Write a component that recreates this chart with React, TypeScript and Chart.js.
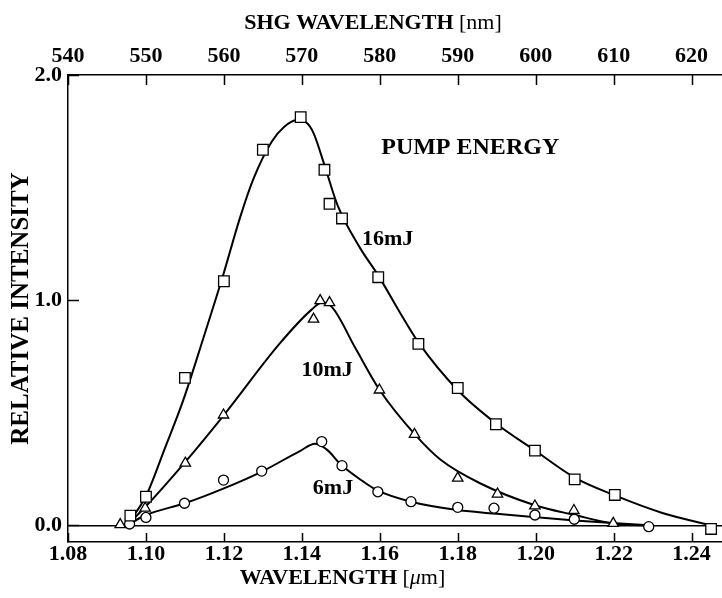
import React, { useEffect, useRef } from 'react';
import { Chart, registerables } from 'chart.js';

Chart.register(...registerables);

// ---- axis ranges and ticks ----
const X_MIN = 1.08;
const X_MAX = 1.2478;
const Y_MIN = -0.074;
const Y_MAX = 2.0;
const xTickValues = [1.08, 1.10, 1.12, 1.14, 1.16, 1.18, 1.20, 1.22, 1.24];
const shgTickValues = [540, 550, 560, 570, 580, 590, 600, 610, 620];
const yTickValues = [0, 1, 2];

// ---- measured points (wavelength in µm, relative intensity) ----
const points16mJ: [number, number][] = [
  [1.096, 0.043], [1.100, 0.127], [1.110, 0.655], [1.120, 1.084], [1.130, 1.668],
  [1.1397, 1.813], [1.1458, 1.579], [1.1471, 1.428], [1.1503, 1.363], [1.1596, 1.102],
  [1.1699, 0.806], [1.180, 0.610], [1.1898, 0.449], [1.1998, 0.332], [1.210, 0.204],
  [1.2203, 0.135], [1.245, -0.016],
];
const points10mJ: [number, number][] = [
  [1.0934, 0.003], [1.0998, 0.076], [1.1101, 0.276], [1.1199, 0.490], [1.143, 0.916],
  [1.1447, 0.998], [1.1471, 0.989], [1.1599, 0.601], [1.1689, 0.404], [1.180, 0.210],
  [1.1902, 0.139], [1.1998, 0.086], [1.2098, 0.066], [1.2199, 0.009],
];
const points6mJ: [number, number][] = [
  [1.0958, 0.006], [1.100, 0.035], [1.1099, 0.098], [1.1199, 0.201], [1.1297, 0.241],
  [1.1451, 0.372], [1.1503, 0.265], [1.1595, 0.149], [1.168, 0.105], [1.180, 0.080],
  [1.1893, 0.076], [1.1998, 0.046], [1.2099, 0.027], [1.229, -0.006],
];

// ---- hand-drawn fit curves ----
const curve16mJ: [number, number][] = [
  [1.0951, 0.0], [1.100, 0.13], [1.1048, 0.34], [1.1096, 0.557], [1.1147, 0.83],
  [1.1197, 1.105], [1.1242, 1.37], [1.1276, 1.54], [1.1323, 1.705], [1.1355, 1.77],
  [1.1387, 1.80], [1.1413, 1.787], [1.143, 1.742], [1.1458, 1.60], [1.1492, 1.42],
  [1.155, 1.23], [1.1596, 1.11], [1.165, 0.95], [1.170, 0.81], [1.180, 0.60],
  [1.190, 0.45], [1.200, 0.33], [1.210, 0.212], [1.220, 0.135], [1.2325, 0.055],
  [1.245, 0.0],
];
const curve10mJ: [number, number][] = [
  [1.0951, 0.0], [1.100, 0.085], [1.110, 0.28], [1.120, 0.49], [1.1344, 0.809],
  [1.1425, 0.958], [1.1452, 0.99], [1.1478, 0.968], [1.1538, 0.785], [1.160, 0.60],
  [1.169, 0.404], [1.1757, 0.29], [1.1857, 0.187], [1.200, 0.088], [1.210, 0.046],
  [1.220, 0.008], [1.228, 0.0],
];
const curve6mJ: [number, number][] = [
  [1.0951, 0.0], [1.100, 0.046], [1.110, 0.098], [1.120, 0.164], [1.130, 0.241],
  [1.1395, 0.33], [1.1434, 0.362], [1.1465, 0.335], [1.150, 0.27], [1.1558, 0.194],
  [1.1595, 0.154], [1.168, 0.105], [1.180, 0.068], [1.190, 0.051], [1.200, 0.036],
  [1.210, 0.022], [1.229, 0.0],
];

// ---- in-plot labels (data coordinates) ----
const plotLabels = [
  { text: 'PUMP ENERGY', x: 1.1832, y: 1.677, size: 24 },
  { text: '16mJ', x: 1.162, y: 1.272, size: 22 },
  { text: '10mJ', x: 1.1465, y: 0.690, size: 22 },
  { text: '6mJ', x: 1.148, y: 0.166, size: 22 },
];

const FONT = '"Liberation Serif", "Times New Roman", serif';

const toXY = (arr: [number, number][]) => arr.map(([x, y]) => ({ x, y }));

function drawRuns(ctx: CanvasRenderingContext2D, runs: { t: string; f: string }[], cx: number, cy: number) {
  let total = 0;
  const widths = runs.map((r) => {
    ctx.font = r.f;
    const w = ctx.measureText(r.t).width;
    total += w;
    return w;
  });
  let x = cx - total / 2;
  ctx.textAlign = 'left';
  ctx.textBaseline = 'middle';
  runs.forEach((r, i) => {
    ctx.font = r.f;
    ctx.fillText(r.t, x, cy);
    x += widths[i];
  });
}

const innerTicksPlugin = {
  id: 'innerTicks',
  afterDraw(chart: any) {
    const { ctx, chartArea } = chart;
    ctx.save();
    ctx.strokeStyle = '#000';
    ctx.lineWidth = 1.5;
    const sx = chart.scales.x;
    const sx2 = chart.scales.x2;
    const sy = chart.scales.y;
    ctx.beginPath();
    sx.ticks.forEach((t: any) => {
      const p = Math.round(sx.getPixelForValue(t.value)) + 0.5;
      ctx.moveTo(p, chartArea.bottom);
      ctx.lineTo(p, chartArea.bottom - 9);
    });
    sx2.ticks.forEach((t: any) => {
      const p = Math.round(sx2.getPixelForValue(t.value)) + 0.5;
      ctx.moveTo(p, chartArea.top);
      ctx.lineTo(p, chartArea.top + 10);
    });
    sy.ticks.forEach((t: any) => {
      const p = Math.round(sy.getPixelForValue(t.value)) + 0.5;
      ctx.moveTo(chartArea.left, p);
      ctx.lineTo(chartArea.left + 11, p);
    });
    ctx.stroke();
    ctx.restore();
  },
};

const textPlugin = {
  id: 'texts',
  afterDraw(chart: any) {
    const { ctx } = chart;
    const sx = chart.scales.x;
    const sy = chart.scales.y;
    ctx.save();
    ctx.fillStyle = '#000';
    plotLabels.forEach((l) => {
      ctx.font = `bold ${l.size}px ${FONT}`;
      ctx.textAlign = 'center';
      ctx.textBaseline = 'middle';
      ctx.fillText(l.text, sx.getPixelForValue(l.x), sy.getPixelForValue(l.y));
    });
    drawRuns(
      ctx,
      [
        { t: 'WAVELENGTH ', f: `bold 22px ${FONT}` },
        { t: '[', f: `22px ${FONT}` },
        { t: 'μ', f: `italic 22px ${FONT}` },
        { t: 'm]', f: `22px ${FONT}` },
      ],
      342.5,
      578
    );
    drawRuns(
      ctx,
      [
        { t: 'SHG WAVELENGTH ', f: `bold 22px ${FONT}` },
        { t: '[nm]', f: `22px ${FONT}` },
      ],
      373,
      23
    );
    ctx.restore();
  },
};

export default function App() {
  const canvasRef = useRef<HTMLCanvasElement | null>(null);

  useEffect(() => {
    const canvas = canvasRef.current;
    if (!canvas) return;

    const pointDs = (label: string, data: [number, number][], style: string, r: number) => ({
      label,
      data: toXY(data),
      showLine: false,
      pointStyle: style,
      pointRadius: r,
      pointBorderWidth: 1.3,
      pointBorderColor: '#000',
      pointBackgroundColor: '#fff',
      order: 0,
    });
    const curveDs = (label: string, data: [number, number][]) => ({
      label,
      data: toXY(data),
      showLine: true,
      borderColor: '#000',
      borderWidth: 2,
      pointRadius: 0,
      cubicInterpolationMode: 'monotone',
      fill: false,
      order: 1,
    });

    const tickFont = { family: FONT, size: 22, weight: 'bold', lineHeight: 1 };
    const noPad = (s: any) => {
      s.paddingLeft = 0;
      s.paddingRight = 0;
      s.paddingTop = 0;
      s.paddingBottom = 0;
    };

    const chart = new Chart(canvas, {
      type: 'scatter',
      data: {
        datasets: [
          pointDs('16mJ points', points16mJ, 'rect', 7.5),
          pointDs('10mJ points', points10mJ, 'triangle', 6),
          pointDs('6mJ points', points6mJ, 'circle', 5),
          curveDs('16mJ', curve16mJ),
          curveDs('10mJ', curve10mJ),
          curveDs('6mJ', curve6mJ),
        ] as any,
      },
      options: {
        animation: false,
        responsive: false,
        devicePixelRatio: 1,
        layout: { padding: 0, autoPadding: false },
        plugins: {
          legend: { display: false },
          tooltip: { enabled: false },
          title: { display: false },
        },
        scales: {
          x: {
            type: 'linear',
            position: 'bottom',
            min: X_MIN,
            max: X_MAX,
            afterBuildTicks: (s: any) => {
              s.ticks = xTickValues.map((v) => ({ value: v }));
            },
            afterFit: (s: any) => {
              s.height = 56;
              noPad(s);
            },
            grid: { display: false, drawTicks: false, drawOnChartArea: false },
            border: { display: true, color: '#000', width: 1.5 },
            ticks: {
              autoSkip: false,
              maxRotation: 0,
              padding: 1,
              color: '#000',
              font: tickFont,
              callback: (v: any) => Number(v).toFixed(2),
            },
          },
          x2: {
            type: 'linear',
            axis: 'x',
            position: 'top',
            min: X_MIN * 500,
            max: X_MAX * 500,
            afterBuildTicks: (s: any) => {
              s.ticks = shgTickValues.map((v) => ({ value: v }));
            },
            afterFit: (s: any) => {
              s.height = 75;
              noPad(s);
            },
            grid: { display: false, drawTicks: false, drawOnChartArea: false },
            border: { display: true, color: '#000', width: 1.5 },
            ticks: {
              autoSkip: false,
              maxRotation: 0,
              padding: 8,
              color: '#000',
              font: tickFont,
              callback: (v: any) => String(Math.round(Number(v))),
            },
          },
          y: {
            type: 'linear',
            position: 'left',
            min: Y_MIN,
            max: Y_MAX,
            afterBuildTicks: (s: any) => {
              s.ticks = yTickValues.map((v) => ({ value: v }));
            },
            afterFit: (s: any) => {
              s.width = 68;
              noPad(s);
            },
            grid: {
              display: true,
              drawTicks: false,
              drawOnChartArea: true,
              lineWidth: 1.5,
              color: (c: any) => (c.tick && c.tick.value === 0 ? '#000' : 'rgba(0,0,0,0)'),
            },
            border: { display: true, color: '#000', width: 1.5 },
            title: {
              display: true,
              text: 'RELATIVE INTENSITY',
              color: '#000',
              font: { family: FONT, size: 25, weight: 'bold', lineHeight: 1.2 },
              padding: { top: 7, bottom: 0 },
            },
            ticks: {
              autoSkip: false,
              padding: 6,
              color: '#000',
              font: tickFont,
              callback: (v: any) => Number(v).toFixed(1),
            },
          },
        },
      } as any,
      plugins: [innerTicksPlugin, textPlugin],
    });

    return () => {
      chart.destroy();
    };
  }, []);

  return (
    <div style={{ position: 'absolute', left: 0, top: 0, width: 722, height: 598, background: '#fff' }}>
      <canvas ref={canvasRef} width={722} height={598} style={{ display: 'block', width: 722, height: 598 }} />
    </div>
  );
}
